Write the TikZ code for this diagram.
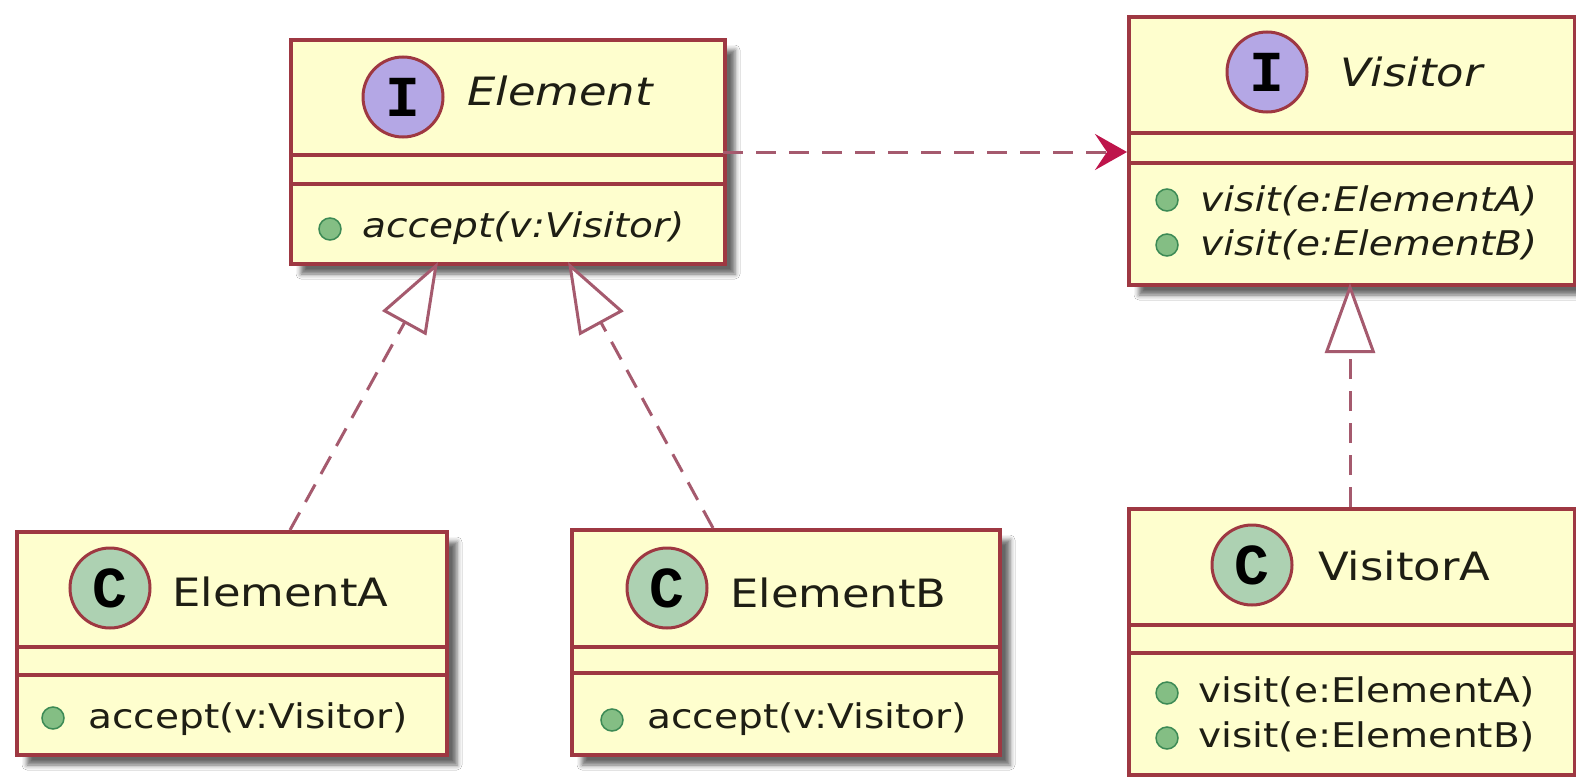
\documentclass[tikz,border=0pt]{standalone}
\usepackage{fontspec}
\setmainfont{DejaVu Sans}[FakeStretch=1.15]
\newfontfamily\spotfont{Liberation Mono}
\usetikzlibrary{arrows.meta,shadows.blur}

\definecolor{boxfill}{HTML}{FEFECE}
\definecolor{boxline}{RGB}{158,56,66}
\definecolor{connline}{RGB}{165,90,110}
\definecolor{arrowred}{RGB}{190,20,75}
\definecolor{ifill}{HTML}{B4A7E5}
\definecolor{cfill}{HTML}{ADD1B2}
\definecolor{pubfill}{HTML}{84BE84}
\definecolor{publine}{HTML}{3C8A55}
\definecolor{inkcol}{RGB}{30,30,20}

\begin{document}
\begin{tikzpicture}[x=1pt,y=-1pt,
  umlbox/.style={draw=boxline, fill=boxfill, line width=4pt, inner sep=0pt,
    anchor=north west,
    blur shadow={shadow xshift=10pt, shadow yshift=-10pt, shadow blur radius=5pt,
      shadow opacity=60}},
  sepline/.style={draw=boxline, line width=4pt},
  spot/.style={circle, draw=boxline, line width=3pt, minimum size=80pt,
    inner sep=0pt, text=black, font=\spotfont\bfseries\fontsize{58}{58}\selectfont},
  ispot/.style={spot, fill=ifill},
  cspot/.style={spot, fill=cfill},
  cname/.style={anchor=base west, inner sep=0pt, text=inkcol,
    font=\fontsize{39}{44}\selectfont},
  iname/.style={anchor=base west, inner sep=0pt, text=inkcol,
    font=\itshape\fontsize{39}{44}\selectfont},
  cmember/.style={anchor=base west, inner sep=0pt, text=inkcol,
    font=\fontsize{34}{40}\selectfont},
  imember/.style={anchor=base west, inner sep=0pt, text=inkcol,
    font=\itshape\fontsize{34}{40}\selectfont},
  pub/.style={circle, draw=publine, fill=pubfill, line width=1.5pt,
    minimum size=22pt, inner sep=0pt},
  realize/.style={draw=connline, line width=3pt, dash pattern=on 20pt off 12pt,
    -{Triangle[length=70pt, width=50pt, fill=white, line join=miter]}},
  depend/.style={draw=connline, line width=3pt, dash pattern=on 20pt off 13pt,
    -{Stealth[length=32pt, width=36pt, inset=12pt, color=arrowred]}}
]
\useasboundingbox (0,0) rectangle (1576,776);
\fill[white] (0,0) rectangle (1576,776);

% ---- interface Element ----
\node[umlbox, minimum width=434pt, minimum height=224pt] (element) at (289,38) {};
\draw[sepline] (289,155) -- (723,155);
\draw[sepline] (289,184) -- (723,184);
\node[ispot] (element-spot) at (403,97) {I};
\node[iname] (element-name) at (467,105) {Element};
\node[pub] (element-dot) at (330,229) {};
\node[imember] (element-m1) at (362,237) {accept(v:Visitor)};

% ---- interface Visitor ----
\node[umlbox, minimum width=446pt, minimum height=268pt] (visitor) at (1127,15) {};
\draw[sepline] (1127,133) -- (1573,133);
\draw[sepline] (1127,163) -- (1573,163);
\node[ispot] (visitor-spot) at (1267,72) {I};
\node[iname] (visitor-name) at (1340,86) {Visitor};
\node[pub] (visitor-dot1) at (1167,200) {};
\node[pub] (visitor-dot2) at (1167,245) {};
\node[imember] (visitor-m1) at (1200,211) {visit(e:ElementA)};
\node[imember] (visitor-m2) at (1200,255) {visit(e:ElementB)};

% ---- class ElementA ----
\node[umlbox, minimum width=430pt, minimum height=223pt] (elementA) at (15,530) {};
\draw[sepline] (15,647) -- (445,647);
\draw[sepline] (15,675) -- (445,675);
\node[cspot] (elementA-spot) at (110,588) {C};
\node[cname] (elementA-name) at (172,606) {ElementA};
\node[pub] (elementA-dot) at (53,718) {};
\node[cmember] (elementA-m1) at (88,728) {accept(v:Visitor)};

% ---- class ElementB ----
\node[umlbox, minimum width=428pt, minimum height=225pt] (elementB) at (570,528) {};
\draw[sepline] (570,647) -- (998,647);
\draw[sepline] (570,673) -- (998,673);
\node[cspot] (elementB-spot) at (667,588) {C};
\node[cname] (elementB-name) at (730,607) {ElementB};
\node[pub] (elementB-dot) at (612,720) {};
\node[cmember] (elementB-m1) at (647,728) {accept(v:Visitor)};

% ---- class VisitorA ----
\node[umlbox, minimum width=446pt, minimum height=266pt] (visitorA) at (1127,507) {};
\draw[sepline] (1127,625) -- (1573,625);
\draw[sepline] (1127,653) -- (1573,653);
\node[cspot] (visitorA-spot) at (1252,565) {C};
\node[cname] (visitorA-name) at (1318,580) {VisitorA};
\node[pub] (visitorA-dot1) at (1167,693) {};
\node[pub] (visitorA-dot2) at (1167,738) {};
\node[cmember] (visitorA-m1) at (1198,702) {visit(e:ElementA)};
\node[cmember] (visitorA-m2) at (1198,747) {visit(e:ElementB)};

% ---- connector end points on the box borders ----
\coordinate (elementA-top) at (290,530);
\coordinate (element-foot-l) at (438,262);
\coordinate (elementB-top) at (713,528);
\coordinate (element-foot-r) at (568,262);
\coordinate (visitorA-top) at (1350,507);
\coordinate (visitor-foot) at (1350,283);
\coordinate (element-side) at (723,152);
\coordinate (visitor-side) at (1127,152);

% ---- relations ----
\draw[realize] (elementA-top) -- (element-foot-l);
\draw[realize] (elementB-top) -- (element-foot-r);
\draw[realize] (visitorA-top) -- (visitor-foot);
\draw[depend] (element-side) -- (visitor-side);
\end{tikzpicture}
\end{document}
